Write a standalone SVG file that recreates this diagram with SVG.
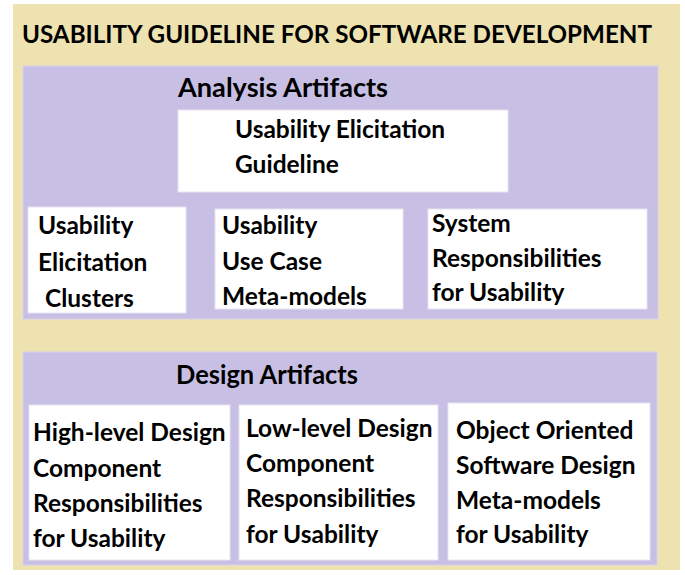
<svg xmlns="http://www.w3.org/2000/svg" width="685" height="575" viewBox="0 0 685 575">
<style>
.t{font-family:Lato,"Open Sans","Liberation Sans",sans-serif;font-weight:bold;fill:#000;}
.b{font-size:24.5px;}
.h{font-size:27px;}
.panel{fill:#C8C0E4;stroke:#D6D0EE;stroke-width:1;}
.box{fill:#FFFFFF;stroke:#E6E2F4;stroke-width:1;}
</style>
<rect width="685" height="575" fill="#FFFFFF"/>
<g id="guideline">
<rect x="13" y="4" width="667" height="566" fill="#EEE2B0"/>
<text class="t" x="22" y="43" font-size="25" textLength="630" lengthAdjust="spacingAndGlyphs">USABILITY GUIDELINE FOR SOFTWARE DEVELOPMENT</text>
</g>
<g id="analysis">
<rect class="panel" x="23" y="66" width="635" height="253"/>
<text class="t h" x="178" y="97" textLength="210" lengthAdjust="spacingAndGlyphs">Analysis Artifacts</text>
</g>
<g id="elicitation-guideline">
<rect class="box" x="178" y="110" width="330" height="82"/>
<text class="t b" x="235" y="138">Usability Elicitation</text>
<text class="t b" x="235" y="173">Guideline</text>
</g>
<g id="elicitation-clusters">
<rect class="box" x="28" y="207" width="158" height="106"/>
<text class="t b" x="38" y="234">Usability</text>
<text class="t b" x="38" y="271">Elicitation</text>
<text class="t b" x="45" y="307">Clusters</text>
</g>
<g id="use-case-metamodels">
<rect class="box" x="215" y="209" width="188" height="100"/>
<text class="t b" x="222" y="234">Usability</text>
<text class="t b" x="222" y="270">Use Case</text>
<text class="t b" x="222" y="305">Meta-models</text>
</g>
<g id="system-responsibilities">
<rect class="box" x="428" y="209" width="219" height="100"/>
<text class="t b" x="432" y="232">System</text>
<text class="t b" x="432" y="267">Responsibilities</text>
<text class="t b" x="432" y="301">for Usability</text>
</g>
<g id="design">
<rect class="panel" x="23" y="352" width="634" height="213"/>
<text class="t h" x="176" y="384" textLength="182" lengthAdjust="spacingAndGlyphs">Design Artifacts</text>
</g>
<g id="high-level-design">
<rect class="box" x="29" y="405" width="201" height="155"/>
<text class="t b" x="33" y="441">High-level Design</text>
<text class="t b" x="33" y="477">Component</text>
<text class="t b" x="33" y="512">Responsibilities</text>
<text class="t b" x="33" y="547">for Usability</text>
</g>
<g id="low-level-design">
<rect class="box" x="239" y="405" width="199" height="155"/>
<text class="t b" x="246" y="437">Low-level Design</text>
<text class="t b" x="246" y="472">Component</text>
<text class="t b" x="246" y="507">Responsibilities</text>
<text class="t b" x="246" y="543">for Usability</text>
</g>
<g id="oo-design">
<rect class="box" x="448" y="403" width="202" height="157"/>
<text class="t b" x="456" y="439">Object Oriented</text>
<text class="t b" x="456" y="474">Software Design</text>
<text class="t b" x="456" y="509">Meta-models</text>
<text class="t b" x="456" y="543">for Usability</text>
</g>
<g id="connectors"></g>
</svg>
